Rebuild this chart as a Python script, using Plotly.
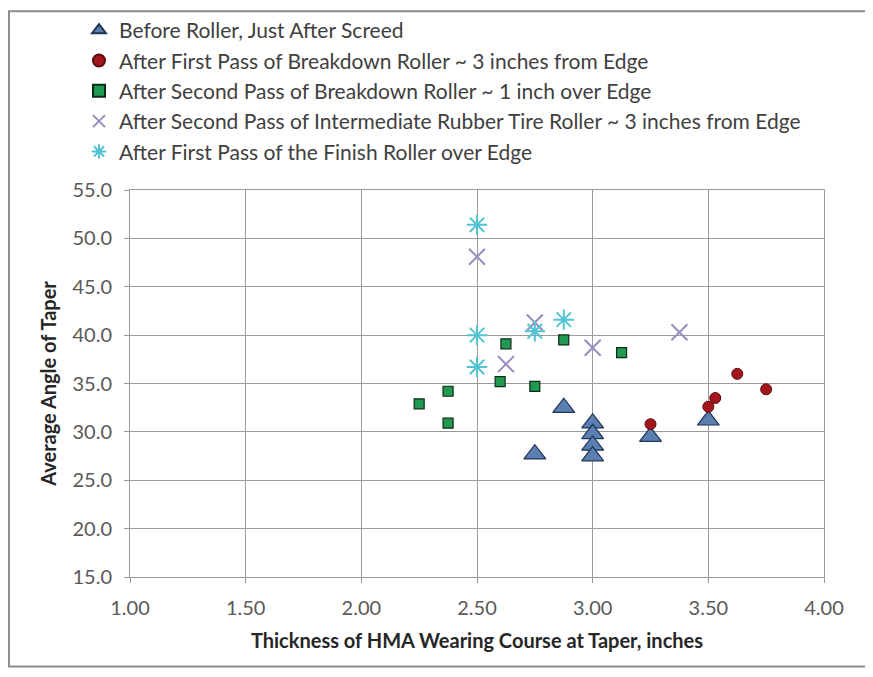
import plotly.graph_objects as go

# Before Roller, Just After Screed
screed_x = [2.75, 2.875, 3.0, 3.0, 3.0, 3.0, 3.25, 3.5]
screed_y = [27.7, 32.5, 30.9, 29.8, 28.6, 27.5, 29.5, 31.2]

# After First Pass of Breakdown Roller
bd1_x = [3.25, 3.5, 3.53, 3.625, 3.75]
bd1_y = [30.8, 32.6, 33.5, 36.0, 34.4]

# After Second Pass of Breakdown Roller
bd2_x = [2.25, 2.375, 2.375, 2.6, 2.625, 2.75, 2.875, 3.125]
bd2_y = [32.9, 34.2, 30.9, 35.2, 39.1, 34.7, 39.5, 38.2]

# After Second Pass of Intermediate Rubber Tire Roller
rt_x = [2.5, 2.625, 2.75, 3.0, 3.375]
rt_y = [48.1, 37.0, 41.3, 38.7, 40.3]

# After First Pass of the Finish Roller
fin_x = [2.5, 2.5, 2.5, 2.75, 2.875]
fin_y = [51.4, 40.0, 36.7, 40.4, 41.6]

names = [
    "Before Roller, Just After Screed",
    "After First Pass of Breakdown Roller ~ 3 inches from Edge",
    "After Second Pass of Breakdown Roller ~ 1 inch over Edge",
    "After Second Pass of Intermediate Rubber Tire Roller ~ 3 inches from Edge",
    "After First Pass of the Finish Roller over Edge",
]

fig = go.Figure()
fig.add_trace(go.Scatter(
    x=screed_x, y=screed_y, mode="markers", name=names[0],
    marker=dict(symbol="triangle-up", size=19, color="#5a7fb0",
                line=dict(color="#1f3552", width=1.2)),
))
fig.add_trace(go.Scatter(
    x=bd1_x, y=bd1_y, mode="markers", name=names[1],
    marker=dict(symbol="circle", size=11, color="#a3161c",
                line=dict(color="#5a0c0f", width=1)),
))
fig.add_trace(go.Scatter(
    x=bd2_x, y=bd2_y, mode="markers", name=names[2],
    marker=dict(symbol="square", size=10, color="#1f9a50",
                line=dict(color="#0d2a17", width=1.2)),
))
fig.add_trace(go.Scatter(
    x=rt_x, y=rt_y, mode="markers", name=names[3],
    marker=dict(symbol="x-thin-open", size=16, color="#9a8cc0",
                line=dict(color="#9a8cc0", width=2)),
))
fig.add_trace(go.Scatter(
    x=fin_x, y=fin_y, mode="markers", name=names[4],
    marker=dict(symbol="asterisk-open", size=17, color="#52c3d3",
                line=dict(color="#52c3d3", width=2)),
))

grid = "#9a9a9a"
fig.update_layout(
    width=873, height=677,
    margin=dict(l=122, r=57, t=182, b=108, autoexpand=False),
    paper_bgcolor="white", plot_bgcolor="white",
    font=dict(family="Lato, Open Sans, sans-serif", color="#404040"),
    showlegend=True,
    legend=dict(x=-0.0735, y=1.465, xanchor="left", yanchor="top",
                font=dict(size=21, color="#404040"),
                bgcolor="rgba(0,0,0,0)", itemwidth=30,
                itemsizing="constant"),
    xaxis=dict(range=[1, 4], dtick=0.5, tick0=1, tickformat=".2f",
               showgrid=True, gridcolor=grid, gridwidth=1,
               showline=True, linecolor=grid, mirror=True,
               ticks="outside", ticklen=5, tickcolor=grid,
               ticklabelstandoff=8,
               zeroline=False, tickfont=dict(size=20, color="#595959"),
               title=dict(text="<b>Thickness of HMA Wearing Course at Taper, inches</b>",
                          font=dict(size=20, color="#262626"), standoff=15)),
    yaxis=dict(range=[15, 55], dtick=5, tick0=15, tickformat=".1f",
               showgrid=True, gridcolor=grid, gridwidth=1,
               showline=True, linecolor=grid, mirror=True,
               ticks="outside", ticklen=5, tickcolor=grid,
               ticklabelstandoff=8,
               zeroline=False, tickfont=dict(size=20, color="#595959"),
               title=dict(text="<b>Average Angle of Taper</b>",
                          font=dict(size=20, color="#262626"), standoff=10)),
    shapes=[dict(type="rect", xref="paper", yref="paper",
                 x0=-0.1744, x1=1.0634, y0=-0.2313, y1=1.462,
                 line=dict(color="#8c8c8c", width=2), layer="below")],
)

fig.write_html("out.html")
